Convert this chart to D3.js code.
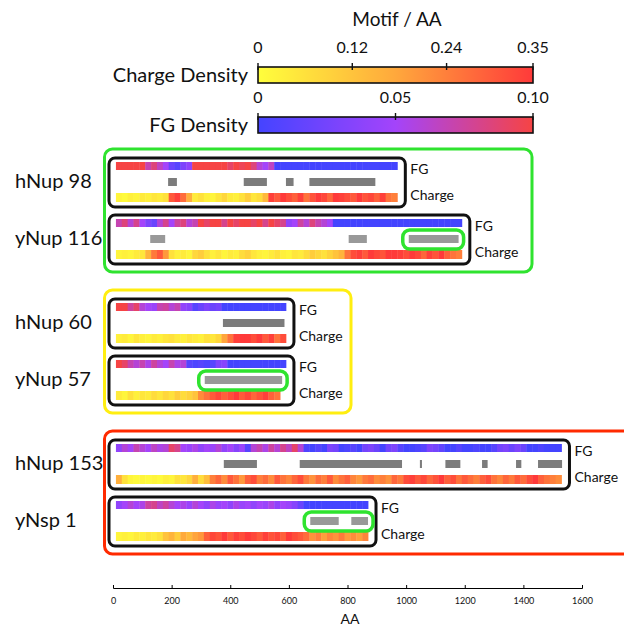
<!DOCTYPE html>
<html lang="en">
  <head>
    <meta charset="utf-8">
    <title>FG and charge density along Nups</title>
    <script type="text/javascript" src="https://cdnjs.cloudflare.com/ajax/libs/d3/7.8.5/d3.min.js"></script>
    <style>
      body { margin: 0; background: #fff; }
      svg text { font-family: Lato, "Noto Sans", sans-serif; fill: #111; }
      .axisX text { font-size: 9px; }
    </style>
  </head>
  <body>
    <div id="chartDiv"></div>
    <script>
      // proteins, top to bottom, two per group
      var proteins = ["hNup 98", "yNup 116", "hNup 60", "yNup 57", "hNup 153", "yNsp 1"];
      var groupOf = [0, 0, 1, 1, 2, 2];

      // density per 20 AA window, first window starts at AA 10
      var binSize = 20, binStart = 10;

      var fgHNup98 = [0.11,0.1,0.12,0.1,0.1,0.07,0.085,0.065,0.05,0.02,0.01,0.03,0.04,0.1,0.11,0.1,0.12,0.1,0.11,0.09,0.1,0.095,0.1,0.085,0.06,0.05,0.065,
        0,0,0,0,0,0,0,0,0,0,0,0,0,0,0,0,0,0,0,0,0];
      var chargeHNup98 = [0.02,0.01,0.03,0.02,0.04,0.03,0.05,0.04,0.06,0.3,0.34,0.27,0.16,0.04,0.06,0.03,0.02,0.05,0.08,0.04,0.03,0.06,0.1,0.05,0.07,0.14,
        0.34,0.3,0.35,0.32,0.29,0.34,0.26,0.31,0.35,0.33,0.28,0.36,0.34,0.32,0.3,0.35,0.31,0.33,0.29,0.34,0.26,0.24];

      var fgYNup116 = [0.07,0.085,0.06,0.08,0.05,0.03,0.02,0.06,0.08,0.05,0.075,0.085,0.06,0.07,
        0.1,0.09,0.11,0.1,0.08,0.11,0.09,0.1,0.12,0.09,0.1,0.08,0.11,0.09,0.08,0.04,0.05,0.075,0.06,0.085,0.07,0.06,0.05,
        0,0,0,0,0,0,0,0,0,0,0,0,0,0,0,0,0,0,0,0,0,0];
      var chargeYNup116 = [0.02,0.03,0.02,0.04,0.05,0.15,0.25,0.3,0.2,
        0.06,0.03,0.04,0.02,0.08,0.1,0.06,0.03,0.05,0.02,0.04,0.03,0.07,0.09,0.05,0.03,0.02,0.04,0.06,0.03,0.02,0.05,0.04,0.07,0.1,0.08,0.06,0.09,0.12,0.15,
        0.26,0.32,0.34,0.3,0.36,0.33,0.31,0.35,0.37,0.34,0.32,0.36,0.33,0.28,0.34,0.31,0.35,0.29,0.26,0.24];

      var fgHNup60 = [0.11,0.1,0.075,0.09,0.06,0.05,0.045,0.07,0.075,0.06,0.07,0.04,0.035,0.01,0.02,0.03,0.02,0.025,
        0,0,0,0,0,0,0,0,0,0,0];
      var chargeHNup60 = [0.03,0.04,0.02,0.05,0.03,0.02,0.04,0.03,0.05,0.06,0.04,0.03,0.05,0.04,0.03,0.06,0.05,0.08,
        0.18,0.26,0.34,0.37,0.35,0.32,0.36,0.3,0.34,0.26,0.32];

      var fgYNup57 = [0.1,0.09,0.07,0.06,0.07,0.055,0.075,0.06,0.05,0.07,0.055,0.06,0.01,0.005,0.01,0.005,0.01,0.03,0.035,
        0,0,0,0,0,0,0,0,0,0];
      var chargeYNup57 = [0.04,0.02,0.06,0.03,0.05,0.04,0.07,0.05,0.08,0.06,0.1,0.07,0.09,0.12,
        0.22,0.26,0.3,0.33,0.29,0.32,0.35,0.3,0.33,0.28,0.31,0.34,0.29,0.26];

      var fgHNup153 = [0.04,0.06,0.05,0.07,0.06,0.05,0.065,0.055,0.06,0.09,0.08,
        0.05,0.045,0.055,0.04,0.05,0.045,0.06,0.04,0.05,0.035,0.045,0.01,
        0.06,0.07,0.055,0.075,0.06,0.08,0.065,0.09,0.06,
        0.005,0,0.01,0,0.03,0.025,0,0.005,0.01,0,0.025,0.03,0.02,0,0.025,0.03,0.01,0,0,0.005,0.01,0.03,0.025,0.015,
        0,0,0.01,0,0,0.005,0,0,0.01,0.025,0.03,0.02,0.03,0.02,0,0,0.005,0,0,0];
      var chargeHNup153 = [0.16,0.06,0.02,0.01,0.02,0.01,0.02,0.01,0.03,0.02,0.06,0.05,0.08,0.16,0.07,0.13,
        0.24,0.28,0.22,0.3,0.26,0.2,0.29,0.32,0.24,0.27,0.22,0.3,0.26,0.23,0.28,0.32,0.25,0.21,0.27,0.24,
        0.3,0.22,0.26,0.29,0.23,0.2,0.25,0.27,0.22,0.24,0.21,0.28,0.25,0.32,0.34,0.3,0.33,0.28,0.31,0.35,
        0.29,0.32,0.26,0.3,0.27,0.24,0.29,0.32,0.26,0.23,0.28,0.25,0.3,0.27,0.32,0.35,0.29,0.26,0.24,0.22];

      var fgYNsp1 = [0.04,0.05,0.06,0.05,0.055,0.075,0.08,0.065,0.075,0.06,0.05,0.055,0.045,0.06,0.05,0.04,
        0.055,0.045,0.05,0.04,0.055,0.045,0.05,0.04,0.05,0.045,0.055,0.04,0.05,0.045,0.035,0.02,
        0,0,0,0,0,0,0,0,0,0,0];
      var chargeYNsp1 = [0.02,0.03,0.02,0.04,0.03,0.05,0.04,0.06,0.12,0.15,0.1,0.17,0.14,0.18,0.2,
        0.29,0.33,0.31,0.35,0.3,0.34,0.32,0.36,0.33,0.3,0.34,0.31,0.33,0.29,0.35,0.32,0.3,0.27,
        0.21,0.24,0.19,0.23,0.21,0.25,0.2,0.22,0.19,0.23];

      // FG repeat regions (start AA, end AA)
      var regionsHNup98 = [[188, 218], [446, 525], [590, 616], [670, 895]];
      var regionsYNup116 = [[127, 178], [804, 866], [1009, 1179]];
      var regionsHNup60 = [[375, 585]];
      var regionsYNup57 = [[313, 577]];
      var regionsHNup153 = [[378, 491], [637, 986], [1047, 1054], [1134, 1185], [1259, 1278], [1375, 1393], [1450, 1532]];
      var regionsYNsp1 = [[673, 770], [813, 870]];

      // highlighted stretches (protein, start AA, end AA)
      var highlights = [["yNup 116", 1009, 1179], ["yNup 57", 313, 577], ["yNsp 1", 673, 870]];

      var axisTicks = [0, 200, 400, 600, 800, 1000, 1200, 1400, 1600];
      var chargeTicks = [0, 0.12, 0.24, 0.35];
      var fgTicks = [0, 0.05, 0.10];
      var fgTickLabels = ["0", "0.05", "0.10"];

      var fgAll = [fgHNup98, fgYNup116, fgHNup60, fgYNup57, fgHNup153, fgYNsp1];
      var chargeAll = [chargeHNup98, chargeYNup116, chargeHNup60, chargeYNup57, chargeHNup153, chargeYNsp1];
      var regionsAll = [regionsHNup98, regionsYNup116, regionsHNup60, regionsYNup57, regionsHNup153, regionsYNsp1];

      var rows = proteins.map(function(name, i) {
        return {name: name, group: groupOf[i], fg: fgAll[i], charge: chargeAll[i],
                regions: regionsAll[i], end: binStart + fgAll[i].length * binSize};
      });

      // ---- layout ----
      var width = 624, height = 630;
      var groupColors = ["#2fe32f", "#ffee10", "#ff2a00"];
      var groupRight = [532, 351, 700];

      var x = d3.scaleLinear().domain([0, 1600]).range([113, 582]);
      var groupY = d3.scaleBand().domain([0, 1, 2]).range([149, 572]);
      var rowTop = function(d, i) { return groupY(d.group) + (i % 2 === 0 ? 13 : 70); };

      var chargeColor = d3.scaleLinear().domain([0, 0.175, 0.35])
          .range(["#ffff3c", "#ffa83c", "#ff3a3a"]).clamp(true);
      var fgColor = d3.scaleLinear().domain([0, 0.05, 0.10])
          .range(["#4444ff", "#a444fa", "#f64444"]).clamp(true);

      var svg = d3.select("#chartDiv").append("svg")
          .attr("width", width).attr("height", height);

      // ---- colour bars ----
      var cbX = d3.scaleLinear().domain([0, 0.35]).range([258, 533]);
      var fbX = d3.scaleLinear().domain([0, 0.10]).range([258, 533]);
      var defs = svg.append("defs");

      function gradient(id, scale, dom) {
        var g = defs.append("linearGradient").attr("id", id);
        d3.range(0, 1.0001, 0.05).forEach(function(t) {
          g.append("stop").attr("offset", t)
           .attr("stop-color", scale(dom[0] + t * (dom[1] - dom[0])));
        });
      }
      gradient("gCharge", chargeColor, [0, 0.35]);
      gradient("gFg", fgColor, [0, 0.10]);

      svg.append("text").attr("x", 397).attr("y", 26)
         .attr("text-anchor", "middle").attr("font-size", "19px").text("Motif / AA");

      function colorBar(scale, ticks, labels, top, fillId, title) {
        svg.append("rect")
           .attr("x", scale.range()[0]).attr("y", top)
           .attr("width", scale.range()[1] - scale.range()[0]).attr("height", 16)
           .attr("fill", "url(#" + fillId + ")")
           .attr("stroke", "#111").attr("stroke-width", 1.6);
        svg.selectAll(null).data(ticks).enter().append("line")
           .attr("x1", function(d) { return scale(d); })
           .attr("x2", function(d) { return scale(d); })
           .attr("y1", top - 4).attr("y2", top + 3)
           .attr("stroke", "#111").attr("stroke-width", 1.4);
        svg.selectAll(null).data(ticks).enter().append("text")
           .attr("x", function(d) { return scale(d); })
           .attr("y", top - 14)
           .attr("text-anchor", "middle").attr("font-size", "16px")
           .text(function(d, i) { return labels[i]; });
        svg.append("text").attr("x", 248).attr("y", top + 15)
           .attr("text-anchor", "end").attr("font-size", "20px").text(title);
      }
      colorBar(cbX, chargeTicks, chargeTicks.map(String), 67, "gCharge", "Charge Density");
      colorBar(fbX, fgTicks, fgTickLabels, 117, "gFg", "FG Density");

      // ---- group frames ----
      svg.selectAll("rect.group")
         .data([0, 1, 2]).enter().append("rect")
         .attr("class", "group")
         .attr("x", 104.5)
         .attr("y", function(g) { return groupY(g); })
         .attr("width", function(g) { return groupRight[g] - 104.5; })
         .attr("height", 123)
         .attr("rx", 8)
         .attr("fill", "none")
         .attr("stroke", function(g) { return groupColors[g]; })
         .attr("stroke-width", 3);

      // ---- protein rows ----
      var row = svg.selectAll("g.row")
         .data(rows).enter().append("g")
         .attr("class", "row")
         .attr("transform", function(d, i) { return "translate(0," + rowTop(d, i) + ")"; });

      function strip(sel, key, color, dy, h) {
        sel.selectAll("rect." + key)
           .data(function(d) { return d[key]; })
           .enter().append("rect")
           .attr("class", key)
           .attr("x", function(v, j) { return x(binStart + j * binSize); })
           .attr("y", dy)
           .attr("width", x(binSize) - x(0) + 0.4)
           .attr("height", h)
           .attr("fill", function(v) { return color(v); });
      }
      strip(row, "fg", fgColor, 0, 8);
      strip(row, "charge", chargeColor, 31, 9);

      row.selectAll("rect.region")
         .data(function(d) { return d.regions.map(function(r) { return {r: r, h: d.name[0] === "h"}; }); })
         .enter().append("rect")
         .attr("class", "region")
         .attr("x", function(d) { return x(d.r[0]); })
         .attr("y", 16)
         .attr("width", function(d) { return x(d.r[1]) - x(d.r[0]); })
         .attr("height", 8)
         .attr("fill", function(d) { return d.h ? "#7c7c7c" : "#999999"; });

      row.append("rect")
         .attr("x", 109)
         .attr("y", -4)
         .attr("width", function(d) { return x(d.end) + 8 - 109; })
         .attr("height", 49)
         .attr("rx", 6)
         .attr("fill", "none")
         .attr("stroke", "#111")
         .attr("stroke-width", 3);

      row.append("text")
         .attr("x", function(d) { return x(d.end) + 13; })
         .attr("y", 12)
         .attr("font-size", "14px")
         .text("FG");
      row.append("text")
         .attr("x", function(d) { return x(d.end) + 13; })
         .attr("y", 38)
         .attr("font-size", "14px")
         .text("Charge");

      row.append("text")
         .attr("x", 15)
         .attr("y", 26)
         .attr("font-size", "20px")
         .text(function(d) { return d.name; });

      // highlighted FG stretches
      row.selectAll("rect.hl")
         .data(function(d) { return highlights.filter(function(h) { return h[0] === d.name; }); })
         .enter().append("rect")
         .attr("class", "hl")
         .attr("x", function(h) { return x(h[1]) - 6; })
         .attr("y", 11)
         .attr("width", function(h) { return x(h[2]) - x(h[1]) + 11; })
         .attr("height", 19)
         .attr("rx", 7)
         .attr("fill", "none")
         .attr("stroke", "#2fe32f")
         .attr("stroke-width", 3.5);

      // ---- AA axis ----
      var xAxis = d3.axisBottom(x).tickValues(axisTicks).tickFormat(d3.format("d"))
          .tickSize(-3).tickPadding(10);
      svg.append("g")
         .attr("class", "axisX")
         .attr("transform", "translate(0,588)")
         .call(xAxis);

      svg.append("text").attr("x", 350).attr("y", 624)
         .attr("text-anchor", "middle").attr("font-size", "14px").text("AA");
    </script>
  </body>
</html>
